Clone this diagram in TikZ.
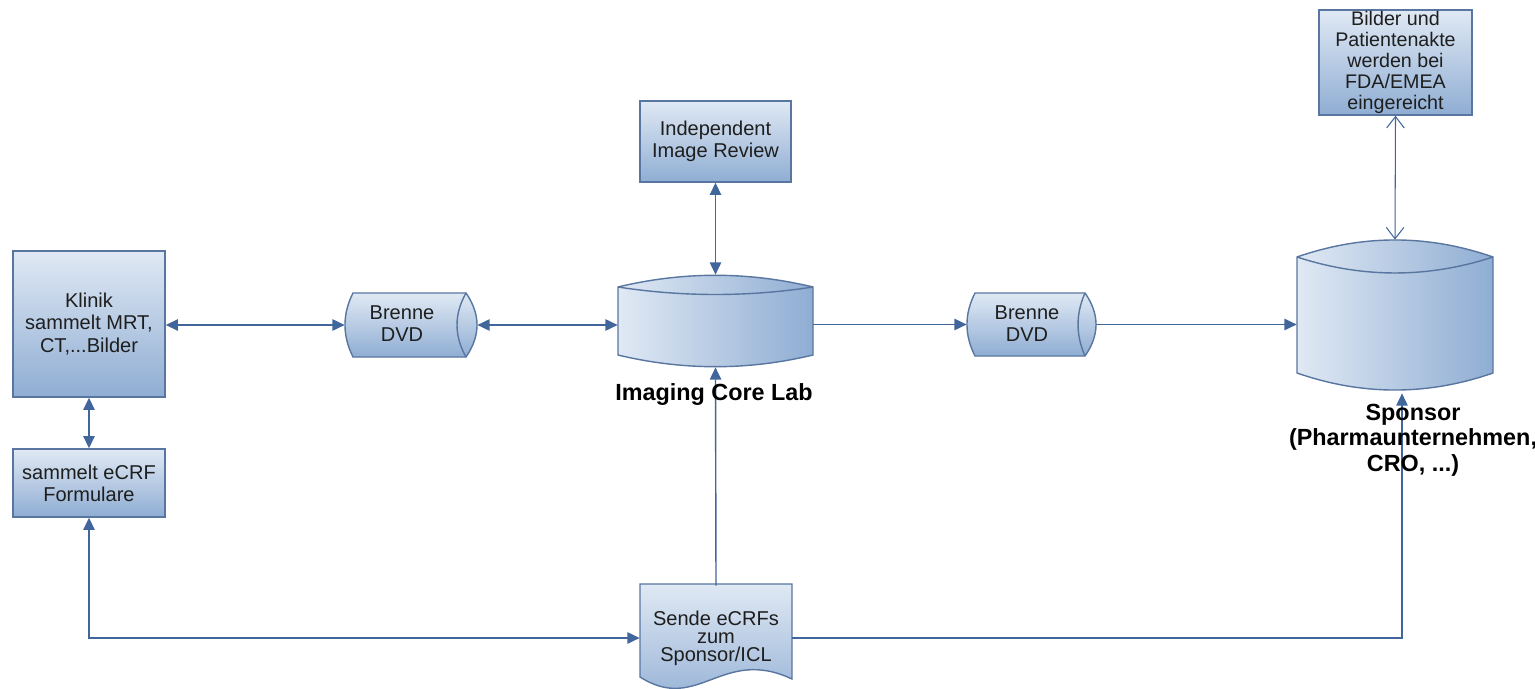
\documentclass[tikz,border=0pt]{standalone}
\usepackage{fontspec}
\setmainfont{Liberation Sans}
\usetikzlibrary{arrows.meta,calc}
\definecolor{boxline}{RGB}{88,118,160}
\definecolor{boxlight}{RGB}{224,233,244}
\definecolor{boxdark}{RGB}{143,173,211}
\definecolor{linkc}{RGB}{64,102,155}
\definecolor{textc}{RGB}{30,30,30}
\tikzset{txt/.style={inner sep=0pt, text=textc, align=center,
   font=\fontsize{11.4}{12.5}\selectfont},
 box/.style={txt, draw=boxline, line width=0.8pt, top color=boxlight, bottom color=boxdark},
 hull/.style={inner sep=0pt},
 shell/.style={draw=boxline, line width=0.8pt},
 vshade/.style={shell, top color=boxlight, bottom color=boxdark},
 hshade/.style={shell, left color=boxlight, right color=boxdark},
 link/.style={draw=linkc, line width=0.8pt, -{Triangle[length=7pt,width=6.5pt]}},
 both/.style={link, {Triangle[length=7pt,width=6.5pt]}-{Triangle[length=7pt,width=6.5pt]}},
 barbs/.style={draw=linkc, line width=0.6pt,
   {Straight Barb[length=6.5pt,width=10pt]}-{Straight Barb[length=6.5pt,width=10pt]}},
 dblabel/.style={inner sep=0pt, align=center, text=black,
   font=\fontsize{13.3}{14.6}\selectfont\bfseries},
 }

\begin{document}
\begin{tikzpicture}[x=0.02cm,y=-0.02cm]
    \useasboundingbox (0,0) rectangle (1535,689);

    \node[box, font=\fontsize{11.4}{12.6}\selectfont, minimum width=3.04cm, minimum height=2.92cm] (klinik) at (89,324) {Klinik\\sammelt MRT,\\CT,...Bilder};
    \node[box, minimum width=3.04cm, minimum height=1.36cm] (ecrf) at (89,483) {sammelt eCRF\\Formulare};
    \node[box, minimum width=3.02cm, minimum height=1.62cm] (iir) at (715.5,141.5) {Independent\\Image Review};
    \node[box, font=\fontsize{11.2}{12}\selectfont, minimum width=3.06cm, minimum height=2.10cm] (bilder) at (1395.5,62.5) {Bilder und\\Patientenakte\\werden bei\\FDA/EMEA\\eingereicht};

    % document shape
    \shade[vshade] (640,584) -- (792,584) -- (792,679) .. controls (722,646) and (698,714) .. (640,677) -- cycle;
    \node[txt, font=\fontsize{11.4}{10.3}\selectfont, minimum width=3.04cm, minimum height=2.08cm] (sende) at (716,638) {Sende eCRFs\\zum\\Sponsor/ICL};

    % DVDs
    \shade[vshade] (353,293) -- (466,293) .. controls (480.7,314.3) and (480.7,335.7) .. (466,357)
        -- (353,357) .. controls (342.3,335.7) and (342.3,314.3) .. (353,293) -- cycle;
    \draw[shell] (466,293) .. controls (454,314.3) and (454,335.7) .. (466,357);
    \node[hull, minimum width=2.64cm, minimum height=1.28cm] (dvd1) at (411,325) {};
    \node[txt] (dvd1t) at (402,324) {Brenne\\DVD};

    \shade[vshade] (975,293) -- (1085,293) .. controls (1099.7,314) and (1099.7,335) .. (1085,356)
        -- (975,356) .. controls (964.3,335) and (964.3,314) .. (975,293) -- cycle;
    \draw[shell] (1085,293) .. controls (1075.7,314) and (1075.7,335) .. (1085,356);
    \node[hull, minimum width=2.58cm, minimum height=1.26cm] (dvd2) at (1031.5,324.5) {};
    \node[txt] (dvd2t) at (1027,324) {Brenne\\DVD};

    % databases
    \shade[hshade] (618,287) .. controls (683,271.4) and (748,271.4) .. (813,287) -- (813,355)
        .. controls (748,370.6) and (683,370.6) .. (618,355) -- cycle;
    \draw[shell] (618,287) .. controls (683,297) and (748,297) .. (813,287);
    \node[hull, minimum width=3.9cm, minimum height=1.84cm] (icl) at (715.5,321) {};

    \shade[hshade] (1297,257) .. controls (1362.3,234.3) and (1427.7,234.3) .. (1493,257) -- (1493,373)
        .. controls (1427.7,395.7) and (1362.3,395.7) .. (1297,373) -- cycle;
    \draw[shell] (1297,257) .. controls (1362.3,278.3) and (1427.7,278.3) .. (1493,257);
    \node[hull, minimum width=3.92cm, minimum height=3cm] (sponsor) at (1395,315) {};

    \draw[both] (klinik.east |- dvd1.west) -- (dvd1.west);
    \draw[both] (dvd1.east) -- (dvd1.east -| icl.west);
    \draw[link] (icl.east |- dvd2.west) -- (dvd2.west);
    \draw[link] (dvd2.east) -- (dvd2.east -| sponsor.west);
    \draw[both] (iir.south) -- (icl.north);
    \draw[link] (sende.north) -- (icl.south);
    \draw[both] (klinik.south) -- (ecrf.north);
    \draw[both] (ecrf.south) |- (sende.west);
    \draw[link] (sende.east) -| ($(sponsor.south)+(7,3)$);
    \draw[barbs] (bilder.south) -- (sponsor.north);

    \node[dblabel] (icllabel) at (714,395) {Imaging Core Lab};
    \node[dblabel] (sponsorlabel) at (1413,440) {Sponsor\\(Pharmaunternehmen,\\CRO, ...)};
\end{tikzpicture}
\end{document}
